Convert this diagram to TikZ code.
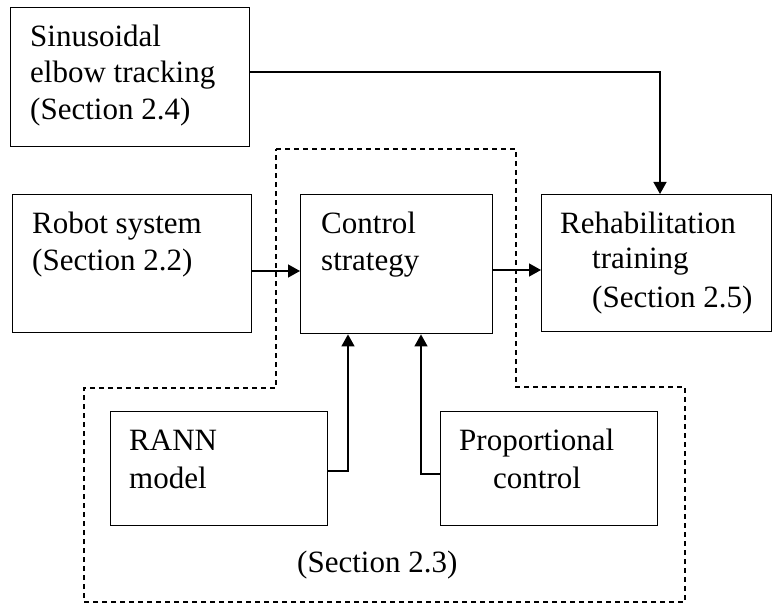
\documentclass[tikz,border=0pt]{standalone}
\usepackage{fontspec}
\setmainfont{Liberation Serif}
\usetikzlibrary{arrows.meta}
\begin{document}
\begin{tikzpicture}[x=1pt,y=-1pt,
  box/.style={draw,line width=1.4pt,rectangle,inner sep=0pt,anchor=north west},
  lbl/.style={anchor=base west,inner sep=0pt,font=\fontsize{31}{37}\selectfont},
  arr/.style={line width=1.4pt,-{Triangle[length=12pt,width=13pt]}},
  dashline/.style={line width=1.2pt,dash pattern=on 5pt off 4pt}]
\useasboundingbox (0,0) rectangle (773,604);
% boxes
\node[box,minimum width=239pt,minimum height=139pt] (sin) at (10,7) {};
\node[box,minimum width=239pt,minimum height=138pt] (rob) at (12,194) {};
\node[box,minimum width=192pt,minimum height=139pt] (ctl) at (300,194) {};
\node[box,minimum width=230pt,minimum height=137pt] (reh) at (541,194) {};
\node[box,minimum width=217pt,minimum height=114pt] (rann) at (110,411) {};
\node[box,minimum width=217pt,minimum height=114pt] (prop) at (440,411) {};
% texts
\node[lbl] (t1) at (30,47) {Sinusoidal};
\node[lbl] (t2) at (30,83) {elbow tracking};
\node[lbl] (t3) at (30,120) {(Section 2.4)};
\node[lbl] (t4) at (32,233) {Robot system};
\node[lbl] (t5) at (32,270) {(Section 2.2)};
\node[lbl] (t6) at (321,233) {Control};
\node[lbl] (t7) at (321,270) {strategy};
\node[lbl] (t8) at (560,233) {Rehabilitation};
\node[lbl] (t9) at (592,268) {training};
\node[lbl] (t10) at (592,307) {(Section 2.5)};
\node[lbl] (t11) at (129,450) {RANN};
\node[lbl] (t12) at (129,488) {model};
\node[lbl] (t13) at (459,450) {Proportional};
\node[lbl] (t14) at (493,488) {control};
\node[lbl] (t15) at (297,572) {(Section 2.3)};
% dashed region
\coordinate (d1) at (276,149);
\coordinate (d2) at (516,149);
\coordinate (d3) at (516,387);
\coordinate (d4) at (685,387);
\coordinate (d5) at (685,602);
\coordinate (d6) at (84,602);
\coordinate (d7) at (84,388);
\coordinate (d8) at (276,388);
\draw[dashline] (d1) -- (d2) -- (d3) -- (d4) -- (d5) -- (d6) -- (d7) -- (d8) -- cycle;
% connectors
\coordinate (c1) at (660,72);
\draw[arr] (sin.east |- c1) -- (c1) -- (c1 |- reh.north);
\coordinate (c2) at (0,271);
\draw[arr] (rob.east |- c2) -- (ctl.west |- c2);
\coordinate (c3) at (0,270);
\draw[arr] (ctl.east |- c3) -- (reh.west |- c3);
\coordinate (c4) at (348,471);
\draw[arr] (rann.east |- c4) -- (c4) -- (c4 |- ctl.south);
\coordinate (c5) at (421,474);
\draw[arr] (prop.west |- c5) -- (c5) -- (c5 |- ctl.south);
\end{tikzpicture}
\end{document}
